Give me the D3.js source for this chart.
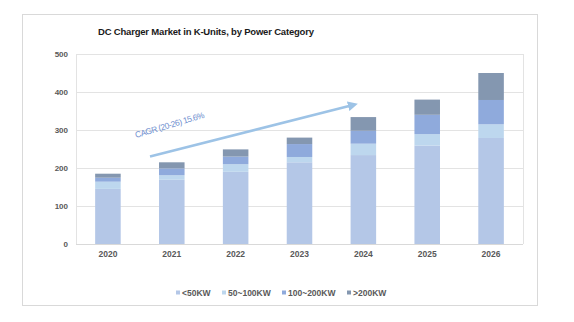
<!DOCTYPE html>
<html>
<head>
<meta charset="utf-8">
<script src="https://cdn.jsdelivr.net/npm/d3@7"></script>
<style>
  body { margin: 0; background: #fff; }
  svg { font-family: "Liberation Sans", Arial, sans-serif; }
</style>
</head>
<body>
<div id="container"></div>
<script>
const years = ["2020", "2021", "2022", "2023", "2024", "2025", "2026"];
const categories = ["<50KW", "50~100KW", "100~200KW", ">200KW"];
const under50 = [145, 169, 190, 215, 234, 259, 279];
const from50to100 = [19, 12, 20, 14, 30, 30, 36];
const from100to200 = [10.5, 18, 20, 34, 34, 51, 64];
const over200 = [10.5, 16, 19, 17, 36, 40, 71];
const yTicks = [0, 100, 200, 300, 400, 500];
const cagrLabel = "CAGR (20-26) 15.6%";

const width = 574;
const height = 322;
const margin = { top: 54, right: 51, bottom: 78, left: 76 };

const table = years.map((y, i) => ({
  year: y,
  "<50KW": under50[i],
  "50~100KW": from50to100[i],
  "100~200KW": from100to200[i],
  ">200KW": over200[i]
}));

const color = d3.scaleOrdinal()
  .domain(categories)
  .range(["#b4c7e7", "#bdd7ee", "#8faadc", "#8497b0"]);

const svg = d3.select("#container")
  .append("svg")
  .attr("width", width)
  .attr("height", height);

// outer frame
svg.append("rect")
  .attr("x", 22.5).attr("y", 14.5)
  .attr("width", 515).attr("height", 291)
  .attr("fill", "#fff")
  .attr("stroke", "#d9d9d9");

svg.append("text")
  .attr("x", 98)
  .attr("y", 35)
  .attr("font-size", 9.5)
  .attr("font-weight", "bold")
  .attr("fill", "#1a1a1a")
  .attr("textLength", 216)
  .text("DC Charger Market in K-Units, by  Power Category");

const x = d3.scaleBand()
  .domain(years)
  .range([margin.left, width - margin.right])
  .paddingInner(0.6)
  .paddingOuter(0.3);

const y = d3.scaleLinear()
  .domain([0, 500])
  .range([height - margin.bottom, margin.top]);

// gridlines
svg.append("g")
  .selectAll("line")
  .data(yTicks.filter(d => d > 0))
  .join("line")
  .attr("x1", margin.left)
  .attr("x2", width - margin.right)
  .attr("y1", d => Math.round(y(d)) + 0.5)
  .attr("y2", d => Math.round(y(d)) + 0.5)
  .attr("stroke", "#e3e3e3");

// plot area sides
svg.append("g")
  .selectAll("line")
  .data([margin.left, width - margin.right])
  .join("line")
  .attr("x1", d => d + 0.5).attr("x2", d => d + 0.5)
  .attr("y1", y(500)).attr("y2", y(0))
  .attr("stroke", "#e3e3e3");

const yAxis = d3.axisLeft(y).tickValues(yTicks).tickSize(0).tickPadding(8);
svg.append("g")
  .attr("transform", `translate(${margin.left},0)`)
  .call(yAxis)
  .call(g => g.select(".domain").remove())
  .selectAll("text")
  .attr("font-size", 8)
  .attr("font-weight", "bold")
  .attr("fill", "#595959");

// stacked bars
const stack = d3.stack().keys(categories)(table);
svg.append("g")
  .selectAll("g")
  .data(stack)
  .join("g")
  .attr("fill", d => color(d.key))
  .selectAll("rect")
  .data(d => d)
  .join("rect")
  .attr("x", d => x(d.data.year))
  .attr("width", x.bandwidth())
  .attr("y", d => y(d[1]))
  .attr("height", d => y(d[0]) - y(d[1]));

// baseline
svg.append("line")
  .attr("x1", margin.left).attr("x2", width - margin.right)
  .attr("y1", y(0) + 0.5).attr("y2", y(0) + 0.5)
  .attr("stroke", "#d9d9d9");

const xAxis = d3.axisBottom(x).tickSize(0).tickPadding(7);
svg.append("g")
  .attr("transform", `translate(0,${y(0)})`)
  .call(xAxis)
  .call(g => g.select(".domain").remove())
  .selectAll("text")
  .attr("font-size", 8.5)
  .attr("font-weight", "bold")
  .attr("fill", "#595959");

// growth arrow
const defs = svg.append("defs");
defs.append("marker")
  .attr("id", "arrowHead")
  .attr("viewBox", "0 0 10 10")
  .attr("refX", 5).attr("refY", 5)
  .attr("markerWidth", 4).attr("markerHeight", 4)
  .attr("orient", "auto")
  .append("path")
  .attr("d", "M0,0L10,5L0,10Z")
  .attr("fill", "#9dc3e6");

svg.append("line")
  .attr("x1", 150).attr("y1", 156.5)
  .attr("x2", 353).attr("y2", 105)
  .attr("stroke", "#9dc3e6")
  .attr("stroke-width", 2.5)
  .attr("marker-end", "url(#arrowHead)");

svg.append("text")
  .attr("transform", "translate(136,138) rotate(-16.5)")
  .attr("font-size", 8.5)
  .attr("fill", "#6f8fcf")
  .attr("textLength", 72)
  .text(cagrLabel);

// legend
const legendX = [176, 222, 282, 347];
const legend = svg.append("g")
  .selectAll("g")
  .data(categories)
  .join("g")
  .attr("transform", (d, i) => `translate(${legendX[i]},293)`);
legend.append("rect")
  .attr("x", 0).attr("y", -2.5)
  .attr("width", 4).attr("height", 4)
  .attr("fill", d => color(d));
legend.append("text")
  .attr("x", 6).attr("y", 3)
  .attr("font-size", 8.5)
  .attr("font-weight", "bold")
  .attr("fill", "#595959")
  .text(d => d);
</script>
</body>
</html>
